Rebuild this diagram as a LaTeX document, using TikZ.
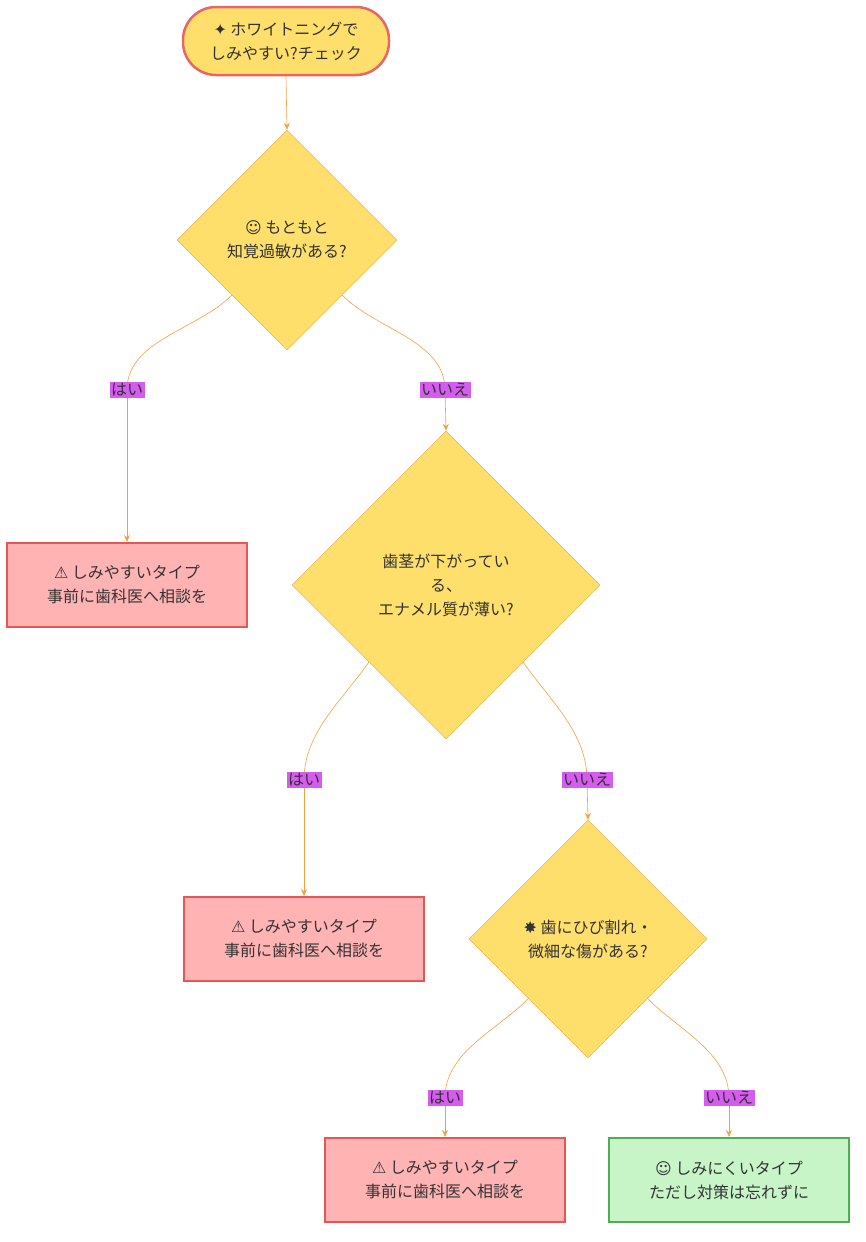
\documentclass[tikz,border=0pt]{standalone}
\usepackage{fontspec}
\setmainfont{Noto Sans CJK JP}
\newfontfamily\symfont{DejaVu Sans}
\usetikzlibrary{shapes.geometric,arrows.meta}
\definecolor{yel}{HTML}{FFDF6B}
\definecolor{pinkf}{HTML}{FFB3B3}
\definecolor{redb}{HTML}{E85555}
\definecolor{grnf}{HTML}{C8F5C8}
\definecolor{grnb}{HTML}{4CAF50}
\definecolor{edge}{HTML}{F5A040}
\definecolor{lab}{HTML}{D65CF0}
\definecolor{txt}{HTML}{333333}
\begin{document}
\begin{tikzpicture}[x=1pt,y=-1pt,
  every node/.style={text=txt,font=\fontsize{16}{24}\selectfont,align=center},
  dia/.style={diamond,aspect=1,fill=yel,draw=edge,line width=0.4pt,inner sep=0pt},
  warn/.style={rectangle,fill=pinkf,draw=redb,line width=2pt,minimum width=240,minimum height=84},
  ok/.style={rectangle,fill=grnf,draw=grnb,line width=2pt,minimum width=240,minimum height=84},
  lbl/.style={fill=lab,inner sep=1.5pt,font=\fontsize{16}{18}\selectfont},
  arr/.style={draw=edge,line width=0.6pt,-{Stealth[length=7pt,width=6pt]}},
  ln/.style={draw=edge,line width=0.6pt}]
\useasboundingbox (0,0) rectangle (866,1242);
\node[rounded corners=33pt,fill=yel,draw=redb!90,line width=2.5pt,minimum width=206,minimum height=68] (s) at (286,41) {{\symfont ✦} ホワイトニングで\\しみやすい?チェック};
\node[dia,minimum width=220,minimum height=220] (d1) at (287,240) {{\symfont ☺} もともと\\知覚過敏がある?};
\node[warn] (b1) at (127,585) {{\symfont ⚠} しみやすいタイプ\\事前に歯科医へ相談を};
\node[dia,minimum width=308,minimum height=308] (d2) at (446,585) {歯茎が下がってい\\る、\\エナメル質が薄い?};
\node[warn] (b2) at (304,939) {{\symfont ⚠} しみやすいタイプ\\事前に歯科医へ相談を};
\node[dia,minimum width=238,minimum height=238] (d3) at (588,939) {{\symfont ✸} 歯にひび割れ・\\微細な傷がある?};
\node[warn] (b3) at (445,1180) {{\symfont ⚠} しみやすいタイプ\\事前に歯科医へ相談を};
\node[ok] (b4) at (729,1180) {{\symfont ☺} しみにくいタイプ\\ただし対策は忘れずに};
\draw[arr] (s.south) -- (d1.north);
\coordinate (c1) at (127,390); \coordinate (c2) at (445,390);
\coordinate (c3) at (304,780); \coordinate (c4) at (587,780);
\coordinate (c5) at (445,1098); \coordinate (c6) at (729,1098);
\draw[ln] (d1.south west) to[out=-135,in=90,looseness=0.9] (c1); \draw[arr] (c1) -- (b1.north);
\draw[ln] (d1.south east) to[out=-45,in=90,looseness=0.9] (c2); \draw[arr] (c2) -- (d2.north);
\draw[ln] (d2.south west) to[out=-125,in=90,looseness=0.9] (c3); \draw[arr] (c3) -- (b2.north);
\draw[ln] (d2.south east) to[out=-55,in=90,looseness=0.9] (c4); \draw[arr] (c4) -- (d3.north);
\draw[ln] (d3.south west) to[out=-135,in=90,looseness=0.9] (c5); \draw[arr] (c5) -- (b3.north);
\draw[ln] (d3.south east) to[out=-45,in=90,looseness=0.9] (c6); \draw[arr] (c6) -- (b4.north);
\node[lbl] (l1) at (c1) {はい};
\node[lbl] (l2) at (c2) {いいえ};
\node[lbl] (l3) at (c3) {はい};
\node[lbl] (l4) at (c4) {いいえ};
\node[lbl] (l5) at (c5) {はい};
\node[lbl] (l6) at (c6) {いいえ};
\end{tikzpicture}
\end{document}
